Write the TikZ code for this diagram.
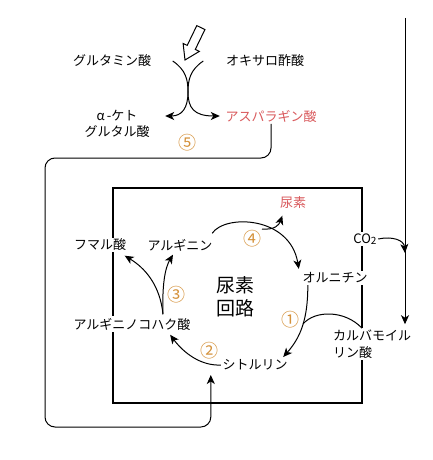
\documentclass[tikz,border=0pt]{standalone}
\usepackage{fontspec}
\setmainfont{Noto Sans CJK JP}
\usetikzlibrary{positioning,arrows.meta,calc}
\definecolor{ureared}{HTML}{D9595C}
\definecolor{steporange}{HTML}{D4913A}

\begin{document}
\begin{tikzpicture}[
    x=1pt, y=-1pt,
    >={Stealth[length=9pt,width=8pt,inset=2.5pt]},
    every node/.style={font=\fontsize{13}{16.5}\selectfont},
    chem/.style={fill=white, inner sep=1.5pt, align=center},
    chemred/.style={chem, text=ureared},
    stepnum/.style={text=steporange, font=\fontsize{18}{18}\selectfont, inner sep=0pt},
    flowarrow/.style={->, line width=1pt, black},
    flowline/.style={line width=1pt, black},
]
\useasboundingbox (0,0) rectangle (432,460);

% ---- Cycle box ----
\draw[line width=1.6pt] (113,188) rectangle (362,403);

% ---- Top: transamination ----
\node[chem] (glu) at (112,61) {グルタミン酸};
\node[chem] (oxa) at (265,61) {オキサロ酢酸};
\node[chem] (akg) at (117,124) {α\,-ケト\\グルタル酸};
\node[chemred] (asp) at (271,116) {アスパラギン酸};
\node[stepnum] (n5) at (187,143) {⑤};

% hollow input arrow
\draw[line width=1pt, fill=white] (204.9,29.6) -- (195.3,49.4) -- (199.3,51.4) -- (185,60)
    -- (183.1,43.4) -- (187.2,45.4) -- (196.8,25.6) -- cycle;

\draw[flowarrow] ([xshift=20pt]glu.east) .. controls (186,70) and (188,80) .. (188,92)
    .. controls (188,108) and (182,116) .. ([xshift=14pt]akg.east |- asp);
\draw[flowarrow] ([xshift=-21pt]oxa.west) .. controls (190,70) and (188,80) .. (188,92)
    .. controls (188,108) and (194,116) .. ([xshift=-4pt]asp.west);

% ---- Cycle ----
\node[font=\fontsize{19}{23.5}\selectfont, align=center] (cycle) at (235,297) {尿素\\回路};
\node[chemred] (urea) at (293,203) {尿素};
\node[chem] (fum) at (100,245) {フマル酸};
\node[chem] (arg) at (180,245) {アルギニン};
\node[chem] (orn) at (335,278) {オルニチン};
\node[chem] (cit) at (255,365) {シトルリン};
\node[chem] (asuc) at (132,324) {アルギニノコハク酸};
\node[chem] (co2) at (365,239) {CO\raisebox{-0.15ex}{\fontsize{10}{10}\selectfont 2}};
\node[chem, align=left] (carb) at (372,344) {カルバモイル\\リン酸};

\node[stepnum] (n1) at (290,320) {①};
\node[stepnum] (n2) at (209,351) {②};
\node[stepnum] (n3) at (176,295) {③};
\node[stepnum] (n4) at (252,239) {④};

% step 4
\draw[flowarrow] ([xshift=-2pt,yshift=4pt]arg.north east) .. controls (225,214) and (290,216) .. ([xshift=-2pt,yshift=2pt]orn.north west);
\draw[flowarrow] (262,229) .. controls (275,230) and (279,225) .. ([xshift=4pt,yshift=-5pt]urea.south west);
% step 1
\draw[flowarrow] ([xshift=7pt]orn.south west) .. controls (308,320) and (300,338) .. ([xshift=-6pt,yshift=1pt]cit.north east);
\draw[flowline] ([xshift=-10pt]carb.north) .. controls (345,310) and (315,310) .. (303,324);
% step 2
\draw[flowarrow] (cit.west) .. controls (200,366) and (183,352) .. ([xshift=-22pt,yshift=-3pt]asuc.south east);
% step 3
\draw[flowarrow] ([xshift=31pt,yshift=2pt]asuc.north) .. controls (160,285) and (145,268) .. ([xshift=-3pt,yshift=-3pt]fum.south east);
\draw[flowarrow] ([xshift=31pt,yshift=2pt]asuc.north) .. controls (162,285) and (165,268) .. ([xshift=-7pt,yshift=-2pt]arg.south);

% ---- Feeds into the cycle ----
\coordinate (carbin) at (405,18);
\coordinate (co2join) at (405,253);
\draw[flowarrow] (carbin) -- ($(carbin |- carb.north)+(0,-4)$);
\draw[flowarrow] (co2.east) .. controls (392,236) and (404,240) .. (co2join);
\draw[flowarrow, rounded corners=10pt] (asp.south) |- (45,158) -- (45,427) -| ([xshift=-10pt,yshift=-3pt]cit.south west);

\end{tikzpicture}
\end{document}
